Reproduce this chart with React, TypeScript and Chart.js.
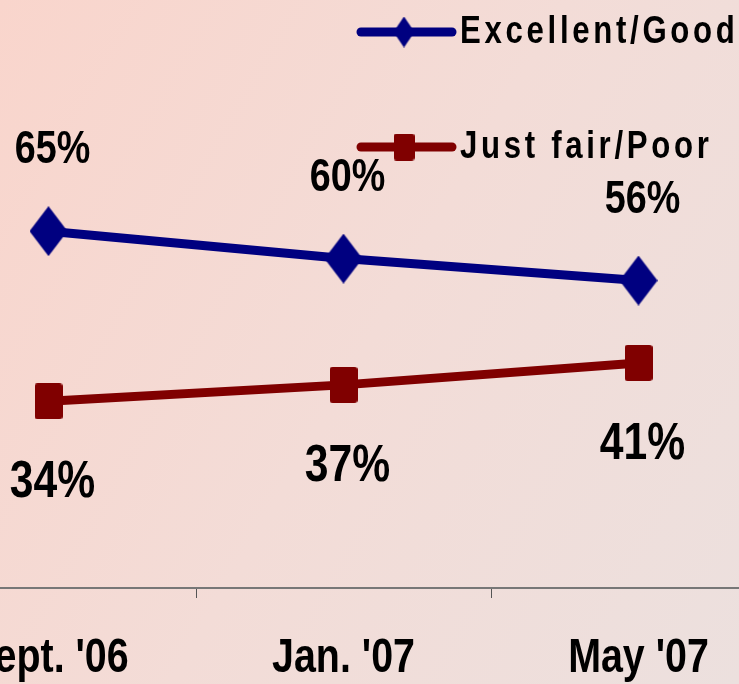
import React, { useEffect, useRef } from "react";
import { Chart, registerables } from "chart.js";

Chart.register(...registerables);

const categories = ["Sept. '06", "Jan. '07", "May '07"];
const excellentGood = [65, 60, 56];
const justFairPoor = [34, 37, 41];
const seriesNames = ["Excellent/Good", "Just fair/Poor"];

const NAVY = "#000080";
const MAROON = "#800000";
const FONT = "'Liberation Sans', Arial, sans-serif";
const NARROW = 0.82;

function makeDiamond(w: number, h: number, color: string) {
  const c = document.createElement("canvas");
  c.width = w;
  c.height = h;
  const ctx = c.getContext("2d")!;
  ctx.fillStyle = color;
  ctx.beginPath();
  ctx.moveTo(w / 2, 0);
  ctx.lineTo(w, h / 2);
  ctx.lineTo(w / 2, h);
  ctx.lineTo(0, h / 2);
  ctx.closePath();
  ctx.fill();
  return c;
}

function makeSquare(w: number, h: number, color: string) {
  const c = document.createElement("canvas");
  c.width = w;
  c.height = h;
  const ctx = c.getContext("2d")!;
  ctx.fillStyle = color;
  ctx.beginPath();
  (ctx as any).roundRect(0, 0, w, h, 3);
  ctx.fill();
  return c;
}

function drawNarrow(
  ctx: CanvasRenderingContext2D,
  text: string,
  x: number,
  y: number,
  size: number,
  align: CanvasTextAlign,
  spacing = 0
) {
  ctx.save();
  ctx.translate(x, y);
  ctx.scale(NARROW, 1);
  ctx.font = `bold ${size}px ${FONT}`;
  (ctx as any).letterSpacing = spacing + "px";
  ctx.textAlign = align;
  ctx.textBaseline = "alphabetic";
  ctx.fillStyle = "#000";
  ctx.fillText(text, 0, 0);
  ctx.restore();
}

const OFFSET_X = 99;

export default function App() {
  const ref = useRef<HTMLCanvasElement>(null);
  useEffect(() => {
    const diamond = makeDiamond(38, 50, NAVY);
    const square = makeSquare(28, 36, MAROON);
    const legendDiamond = makeDiamond(21, 31, NAVY);
    const legendSquare = makeSquare(21, 27, MAROON);

    const labelPlugin = {
      id: "valueLabels",
      afterDatasetsDraw(chart: any) {
        const ctx = chart.ctx;
        chart.data.datasets.forEach((ds: any, i: number) => {
          const meta = chart.getDatasetMeta(i);
          meta.data.forEach((pt: any, j: number) => {
            const above = i === 0;
            drawNarrow(ctx, ds.data[j] + "%", pt.x + 4, pt.y + (above ? -68 : 96), above ? 46 : 52, "center");
          });
        });
      },
    };

    const axisLabelPlugin = {
      id: "axisLabels",
      afterDraw(chart: any) {
        const ctx = chart.ctx;
        const xs = chart.scales.x;
        categories.forEach((c, i) => {
          drawNarrow(ctx, c, xs.getPixelForValue(i), 672, 48, "center");
        });
      },
    };

    const legendPlugin = {
      id: "customLegend",
      afterDraw(chart: any) {
        const ctx = chart.ctx;
        const items = [
          { name: seriesNames[0], color: NAVY, marker: legendDiamond, y: 32 },
          { name: seriesNames[1], color: MAROON, marker: legendSquare, y: 147 },
        ];
        items.forEach((it) => {
          ctx.save();
          const x0 = 361 + OFFSET_X;
          const x1 = 452 + OFFSET_X;
          ctx.strokeStyle = it.color;
          ctx.lineWidth = 9;
          ctx.lineCap = "round";
          ctx.beginPath();
          ctx.moveTo(x0, it.y);
          ctx.lineTo(x1, it.y);
          ctx.stroke();
          const mx = 404 + OFFSET_X;
          ctx.drawImage(it.marker, mx - it.marker.width / 2, it.y - it.marker.height / 2);
          ctx.restore();
          drawNarrow(ctx, it.name, 460 + OFFSET_X, it.y + 11, 38, "left", 4.5);
        });
      },
    };

    const chart = new Chart(ref.current!, {
      type: "line",
      data: {
        labels: categories,
        datasets: [
          {
            label: seriesNames[0],
            data: excellentGood,
            borderColor: NAVY,
            backgroundColor: NAVY,
            borderWidth: 9,
            pointStyle: diamond as any,
            tension: 0,
          },
          {
            label: seriesNames[1],
            data: justFairPoor,
            borderColor: MAROON,
            backgroundColor: MAROON,
            borderWidth: 9,
            pointStyle: square as any,
            tension: 0,
          },
        ],
      },
      options: {
        animation: false,
        responsive: false,
        maintainAspectRatio: false,
        layout: { autoPadding: false, padding: { top: 39, left: 0, right: 0, bottom: 0 } },
        plugins: {
          legend: { display: false },
          tooltip: { enabled: false },
        },
        scales: {
          x: {
            offset: true,
            grid: {
              offset: true,
              drawOnChartArea: false,
              drawTicks: true,
              tickLength: 10,
              color: "#555",
              lineWidth: 1,
            },
            border: { display: true, color: "#777", width: 2 },
            ticks: {
              display: false,
              autoSkip: false,
            },
            afterFit: (scale: any) => {
              scale.height = 96;
            },
          },
          y: {
            display: false,
            min: 0,
            max: 100,
          },
        },
      },
      plugins: [labelPlugin, axisLabelPlugin, legendPlugin],
    });
    return () => chart.destroy();
  }, []);

  return (
    <div
      style={{
        position: "fixed",
        left: 0,
        top: 0,
        width: 739,
        height: 684,
        overflow: "hidden",
        background: "linear-gradient(120deg, #f9d5cc 0%, #f3dcd7 50%, #ece0de 100%)",
      }}
    >
      <canvas
        ref={ref}
        width={885}
        height={684}
        style={{ position: "absolute", left: -OFFSET_X, top: 0, width: 885, height: 684 }}
      />
    </div>
  );
}
